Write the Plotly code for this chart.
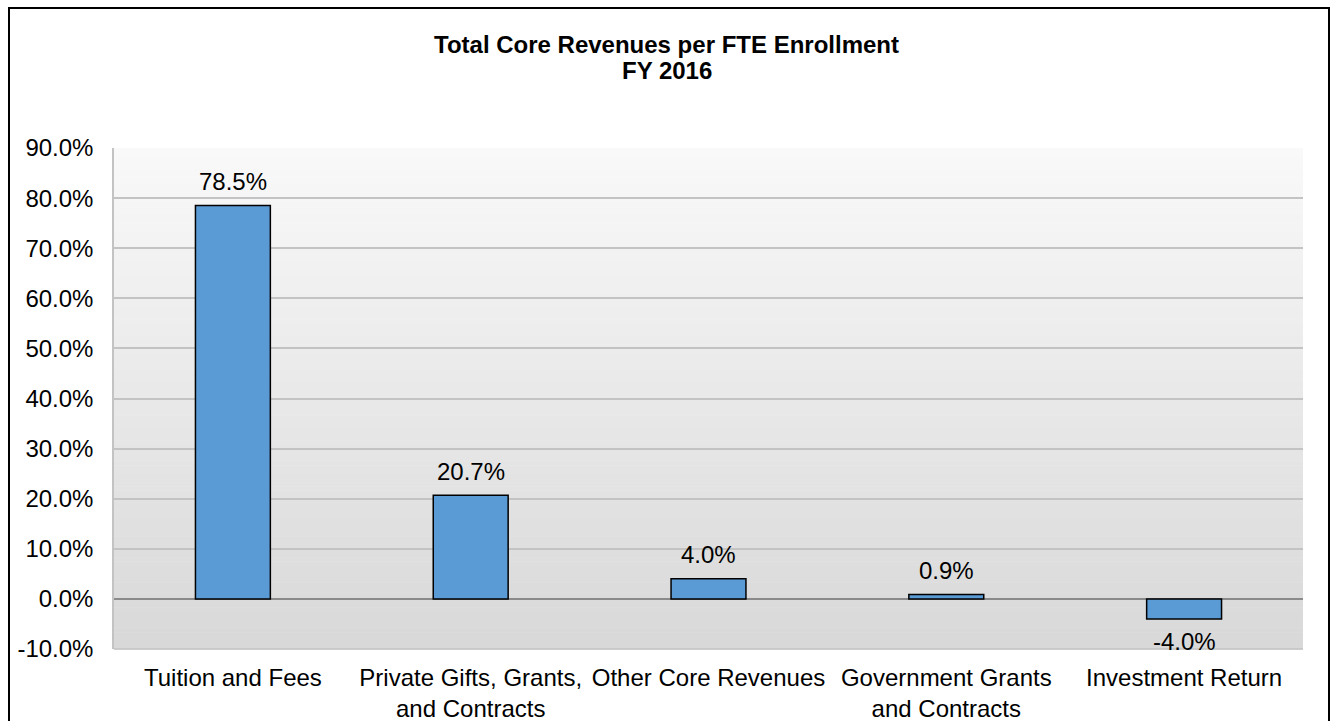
import plotly.graph_objects as go

categories = ["Tuition and Fees", "Private Gifts, Grants,<br>and Contracts", "Other Core Revenues",
              "Government Grants<br>and Contracts", "Investment Return"]
values = [78.5, 20.7, 4.0, 0.9, -4.0]
y_ticks = [-10, 0, 10, 20, 30, 40, 50, 60, 70, 80, 90]
y_tick_labels = [f"{v:.1f}%" for v in y_ticks]
title_line1 = "Total Core Revenues per FTE Enrollment"
title_line2 = "FY 2016"

W, H = 1333, 721
ml, mr, mt, mb = 114, 30, 148, 72
pw, ph = W - ml - mr, H - mt - mb

FONT = "Liberation Sans, Arial, sans-serif"
FS = 24

fig = go.Figure()
fig.add_trace(go.Bar(
    x=categories, y=values, width=0.315,
    marker=dict(color="#5B9BD5", line=dict(color="#000000", width=1.5)),
    hoverinfo="skip", showlegend=False,
))

# value labels
for c, v in zip(categories, values):
    fig.add_annotation(
        x=c, y=v, text=f"{v:.1f}%", showarrow=False,
        yanchor="middle", yshift=24 if v >= 0 else -23,
        font=dict(family=FONT, size=FS, color="#000000"),
    )

# title (two lines)
fig.add_annotation(xref="paper", yref="paper", x=(W / 2 - ml) / pw, y=(mt + ph - 45) / ph,
                   text=f"<b>{title_line1}</b>", showarrow=False, xanchor="center", yanchor="middle",
                   font=dict(family=FONT, size=FS, color="#000000"))
fig.add_annotation(xref="paper", yref="paper", x=(W / 2 - ml) / pw, y=(mt + ph - 71) / ph,
                   text=f"<b>{title_line2}</b>", showarrow=False, xanchor="center", yanchor="middle",
                   font=dict(family=FONT, size=FS, color="#000000"))

# gradient background in plot area
shapes = []
n = 120
top = (0xf9, 0xf9, 0xf9)
bot = (0xd8, 0xd8, 0xd8)
for i in range(n):
    t = (i + 0.5) / n  # 0 at top, 1 at bottom
    c = tuple(int(round(top[k] + (bot[k] - top[k]) * t)) for k in range(3))
    y1 = 1 - i / n
    y0 = 1 - (i + 1) / n
    shapes.append(dict(type="rect", xref="paper", yref="paper", x0=0, x1=1, y0=y0 - 0.001, y1=y1,
                       fillcolor=f"rgb({c[0]},{c[1]},{c[2]})", line=dict(width=0), layer="below"))

# outer border
shapes.append(dict(type="rect", xref="paper", yref="paper",
                   x0=(9 - ml) / pw, x1=(1329 - ml) / pw,
                   y0=(mt + ph - 730) / ph, y1=(mt + ph - 8) / ph,
                   line=dict(color="#000000", width=2), fillcolor="rgba(0,0,0,0)", layer="above"))
# bottom border line of plot area at -10%
shapes.append(dict(type="line", xref="paper", yref="paper", x0=0, x1=1, y0=0, y1=0,
                   line=dict(color="#c3c3c3", width=1.5)))

fig.update_layout(
    width=W, height=H,
    margin=dict(l=ml, r=mr, t=mt, b=mb, pad=0, autoexpand=False),
    paper_bgcolor="#ffffff", plot_bgcolor="rgba(0,0,0,0)",
    shapes=shapes,
    font=dict(family=FONT, size=FS, color="#000000"),
    xaxis=dict(showgrid=False, showline=False, ticks="", ticklabelstandoff=12, automargin=False,
               tickfont=dict(family=FONT, size=FS, color="#000000")),
    yaxis=dict(range=[-10, 90], tickvals=y_ticks, ticktext=y_tick_labels, automargin=False,
               showgrid=True, gridcolor="#c3c3c3", gridwidth=1.5,
               zeroline=True, zerolinecolor="#8a8a8a", zerolinewidth=1.5,
               showline=True, linecolor="#c3c3c3", linewidth=1.5,
               ticks="", ticklabelstandoff=14,
               tickfont=dict(family=FONT, size=FS, color="#000000")),
)

fig.write_html("out.html", config={"displayModeBar": False},
               post_script="document.body.style.margin='0px';")
